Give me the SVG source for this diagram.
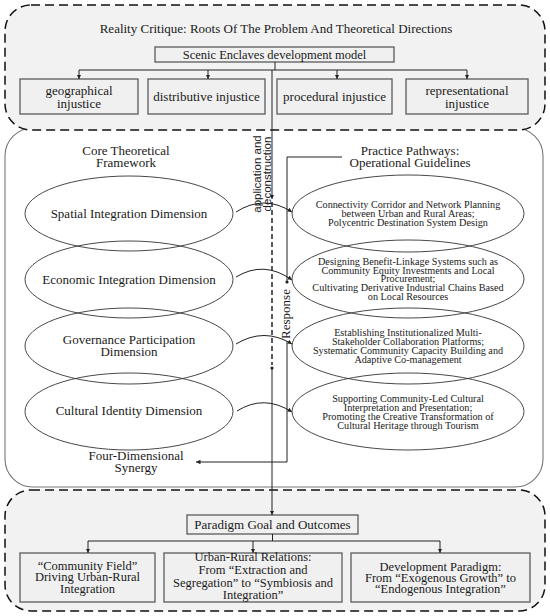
<svg xmlns="http://www.w3.org/2000/svg" width="550" height="616" viewBox="0 0 550 616">
<style>
.dbox{fill:#f2f2f2;stroke:#111;stroke-width:1.5;stroke-dasharray:9 5}
.mbox{fill:#fff;stroke:#777;stroke-width:1.1}
.box{fill:#f0f0f0;stroke:#666;stroke-width:1.4}
.ell{fill:none;stroke:#333;stroke-width:0.9}
.t{font-family:"Liberation Serif","Times New Roman",serif;font-size:13px;fill:#1a1a1a;text-anchor:middle}
.s{font-size:10.2px}
.b{font-size:12.5px}
.sans{font-family:"Liberation Sans",Arial,sans-serif;font-size:11.5px}
.ln{stroke:#222;stroke-width:1;fill:none}
.dash{stroke:#333;stroke-width:1.6;stroke-dasharray:5 3;fill:none}
</style>
<defs>
<marker id="ar" viewBox="0 0 6 6" refX="6" refY="3" markerWidth="4.5" markerHeight="4.5" markerUnits="userSpaceOnUse" orient="auto">
<path d="M0,0 L6,3 L0,6 z" fill="#222"/>
</marker>
</defs>

<g id="section-framework">
<rect class="mbox" x="5" y="128" width="538" height="359" rx="28"/>
</g>
<g id="section-critique">
<path class="dbox" d="M31,5 H519 A26,26 0 0 1 545,31 V104 A26,26 0 0 1 519,130 H31 A26,26 0 0 1 5,104 V31 A26,26 0 0 1 31,5 Z"/>
<text class="t" x="276" y="33">Reality Critique: Roots Of The Problem And Theoretical Directions</text>
</g>
<g id="section-outcomes">
<rect class="dbox" x="5" y="490" width="540" height="121" rx="26"/>
</g>

<g id="node-scenic">
<rect class="box" x="155" y="47" width="239" height="15"/>
<text class="t b" x="274.5" y="58.5">Scenic Enclaves development model</text>
</g>
<g id="node-geographical">
<rect class="box" x="20" y="79" width="118" height="35"/>
<text class="t" x="79" y="95">geographical</text>
<text class="t" x="79" y="107.5">injustice</text>
</g>
<g id="node-distributive">
<rect class="box" x="148" y="79" width="117" height="35"/>
<text class="t" x="206.5" y="100.5">distributive injustice</text>
</g>
<g id="node-procedural">
<rect class="box" x="277" y="79" width="115" height="35"/>
<text class="t" x="334.5" y="100.5">procedural injustice</text>
</g>
<g id="node-representational">
<rect class="box" x="406" y="79" width="122" height="35"/>
<text class="t" x="467" y="95">representational</text>
<text class="t" x="467" y="107.5">injustice</text>
</g>

<g id="node-core-title">
<text class="t" x="126" y="154.5">Core Theoretical</text>
<text class="t" x="126" y="167">Framework</text>
</g>
<g id="node-spatial">
<ellipse class="ell" cx="129" cy="213.5" rx="104" ry="37.5"/>
<text class="t" x="129" y="217.5">Spatial Integration Dimension</text>
</g>
<g id="node-economic">
<ellipse class="ell" cx="129" cy="279.5" rx="104" ry="38.5"/>
<text class="t" x="129" y="283.5">Economic Integration Dimension</text>
</g>
<g id="node-governance">
<ellipse class="ell" cx="129" cy="346" rx="104" ry="38"/>
<text class="t" x="129" y="343.5">Governance Participation</text>
<text class="t" x="129" y="355.5">Dimension</text>
</g>
<g id="node-cultural">
<ellipse class="ell" cx="129" cy="411.5" rx="104" ry="38.5"/>
<text class="t" x="129" y="415">Cultural Identity Dimension</text>
</g>
<g id="node-synergy">
<text class="t" x="136" y="460">Four-Dimensional</text>
<text class="t" x="136" y="472">Synergy</text>
</g>

<g id="node-practice-title">
<text class="t" x="410" y="154.5">Practice Pathways:</text>
<text class="t" x="410" y="167">Operational Guidelines</text>
</g>
<g id="node-p1">
<ellipse class="ell" cx="408" cy="213.5" rx="116" ry="38.5"/>
<text class="t s" x="408" y="208.3">Connectivity Corridor and Network Planning</text>
<text class="t s" x="408" y="217">between Urban and Rural Areas;</text>
<text class="t s" x="408" y="225.7">Polycentric Destination System Design</text>
</g>
<g id="node-p2">
<ellipse class="ell" cx="408" cy="279" rx="116" ry="39"/>
<text class="t s" x="408" y="264.8">Designing Benefit-Linkage Systems such as</text>
<text class="t s" x="408" y="273.6">Community Equity Investments and Local</text>
<text class="t s" x="408" y="282.4">Procurement;</text>
<text class="t s" x="408" y="291.2">Cultivating Derivative Industrial Chains Based</text>
<text class="t s" x="408" y="300">on Local Resources</text>
</g>
<g id="node-p3">
<ellipse class="ell" cx="408" cy="346" rx="116" ry="38"/>
<text class="t s" x="408" y="336.4">Establishing Institutionalized Multi-</text>
<text class="t s" x="408" y="345.1">Stakeholder Collaboration Platforms;</text>
<text class="t s" x="408" y="353.8">Systematic Community Capacity Building and</text>
<text class="t s" x="408" y="362.5">Adaptive Co-management</text>
</g>
<g id="node-p4">
<ellipse class="ell" cx="408" cy="411.5" rx="116" ry="38.5"/>
<text class="t s" x="408" y="402.4">Supporting Community-Led Cultural</text>
<text class="t s" x="408" y="411.1">Interpretation and Presentation;</text>
<text class="t s" x="408" y="419.8">Promoting the Creative Transformation of</text>
<text class="t s" x="408" y="428.5">Cultural Heritage through Tourism</text>
</g>

<g id="node-paradigm">
<rect class="box" x="187" y="515" width="171" height="19"/>
<text class="t" x="272.5" y="529">Paradigm Goal and Outcomes</text>
</g>
<g id="node-community-field">
<rect class="box" x="20" y="553" width="135" height="49"/>
<text class="t b" x="87.5" y="569.5">“Community Field”</text>
<text class="t b" x="87.5" y="581">Driving Urban-Rural</text>
<text class="t b" x="87.5" y="592.5">Integration</text>
</g>
<g id="node-relations">
<rect class="box" x="164" y="553" width="178" height="49"/>
<text class="t b" x="253" y="561">Urban-Rural Relations:</text>
<text class="t b" x="253" y="574">From “Extraction and</text>
<text class="t b" x="253" y="586.5">Segregation” to “Symbiosis and</text>
<text class="t b" x="253" y="598.5">Integration”</text>
</g>
<g id="node-development">
<rect class="box" x="351" y="553" width="179" height="49"/>
<text class="t b" x="440.5" y="570.5">Development Paradigm:</text>
<text class="t b" x="440.5" y="581.5">From “Exogenous Growth” to</text>
<text class="t b" x="440.5" y="593">“Endogenous Integration”</text>
</g>

<g id="connectors">
<path class="ln" d="M275,62 V70"/>
<path class="ln" d="M79,70 H467"/>
<path class="ln" d="M79,70 V79" marker-end="url(#ar)"/>
<path class="ln" d="M208,70 V79" marker-end="url(#ar)"/>
<path class="ln" d="M337,70 V79" marker-end="url(#ar)"/>
<path class="ln" d="M467,70 V79" marker-end="url(#ar)"/>
<path class="ln" d="M272,70 V199" marker-end="url(#ar)"/>
<path class="dash" d="M272,202 V365"/>
<circle cx="272" cy="368" r="1.6" fill="#222"/>
<path class="ln" d="M272,368 V515" marker-end="url(#ar)"/>
<text class="t sans" transform="translate(261,174) rotate(-90)">application and<tspan x="0" dy="10">deconstruction</tspan></text>
<path class="ln" d="M342,157 H287 V282"/>
<circle cx="287" cy="282" r="1.6" fill="#222"/>
<text class="t" transform="translate(290,314) rotate(-90)">Response</text>
<path class="ln" d="M287,341 V462 H196" marker-end="url(#ar)"/>
<path class="ln" d="M236,212 Q264,194 292,212" marker-end="url(#ar)"/>
<path class="ln" d="M236,277 Q264,260 292,280" marker-end="url(#ar)"/>
<path class="ln" d="M236,344 Q264,327 292,344" marker-end="url(#ar)"/>
<path class="ln" d="M237,411 Q264,394 292,412" marker-end="url(#ar)"/>
<path class="ln" d="M272.5,534 V541"/>
<path class="ln" d="M88,541 H440"/>
<path class="ln" d="M88,541 V553" marker-end="url(#ar)"/>
<path class="ln" d="M253,541 V553" marker-end="url(#ar)"/>
<path class="ln" d="M440,541 V553" marker-end="url(#ar)"/>
</g>
</svg>
